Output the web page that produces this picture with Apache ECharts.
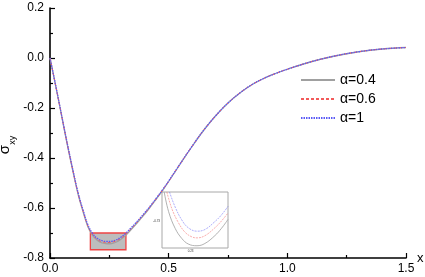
<!DOCTYPE html>
<html><head><meta charset="utf-8">
<script src="https://cdn.jsdelivr.net/npm/echarts@6/dist/echarts.min.js"></script>
<style>html,body{margin:0;padding:0;background:#fff}#c{width:425px;height:277px}</style>
</head><body><div id="c"></div>
<script>
// ---- data ----
const xVals = [0,0.02,0.04,0.06,0.08,0.1,0.12,0.14,0.16,0.18,0.2,0.22,0.24,0.26,0.28,0.3,0.32,0.34,0.36,0.38,0.4,0.42,0.45,0.475,0.5,0.55,0.6,0.65,0.7,0.75,0.8,0.85,0.9,0.95,1.0,1.1,1.2,1.3,1.4,1.5];
const seriesNames = ['α=0.4','α=0.6','α=1'];
const yAlpha04 = [0,-0.093,-0.188,-0.285,-0.379,-0.468,-0.551,-0.617,-0.676,-0.711,-0.730,-0.740,-0.743,-0.742,-0.736,-0.724,-0.708,-0.688,-0.667,-0.645,-0.623,-0.599,-0.561,-0.529,-0.494,-0.422,-0.352,-0.286,-0.229,-0.180,-0.140,-0.107,-0.082,-0.062,-0.045,-0.015,0.008,0.025,0.036,0.042];
const yAlpha06 = [0,-0.092,-0.187,-0.283,-0.377,-0.465,-0.548,-0.614,-0.672,-0.707,-0.726,-0.735,-0.738,-0.737,-0.731,-0.720,-0.704,-0.684,-0.664,-0.642,-0.620,-0.597,-0.560,-0.527,-0.493,-0.421,-0.351,-0.286,-0.229,-0.180,-0.140,-0.107,-0.082,-0.062,-0.045,-0.015,0.008,0.025,0.036,0.042];
const yAlpha1  = [0,-0.092,-0.186,-0.282,-0.375,-0.463,-0.545,-0.610,-0.668,-0.703,-0.722,-0.731,-0.734,-0.733,-0.727,-0.716,-0.700,-0.681,-0.661,-0.640,-0.618,-0.595,-0.558,-0.526,-0.492,-0.421,-0.351,-0.286,-0.229,-0.180,-0.140,-0.107,-0.082,-0.062,-0.045,-0.015,0.008,0.025,0.036,0.042];
const yTicks = ['0.2','0.0','-0.2','-0.4','-0.6','-0.8'];
const xTicks = ['0.0','0.5','1.0','1.5'];
const zoomBox = [[0.17,-0.70],[0.32,-0.767]];
// inset (magnified) curves
const insetX04 = [0.175,0.185,0.200,0.215,0.230,0.2495,0.2675,0.290,0.305,0.320];
const insetY04 = [-0.700,-0.7235,-0.7436,-0.7556,-0.7623,-0.7643,-0.7616,-0.7523,-0.7436,-0.7328];
const insetX06 = [0.181,0.1925,0.2075,0.2225,0.2375,0.2495,0.2675,0.290,0.305,0.320];
const insetY06 = [-0.700,-0.7201,-0.7369,-0.7482,-0.7536,-0.7549,-0.7523,-0.7429,-0.7348,-0.7251];
const insetX1  = [0.187,0.200,0.215,0.230,0.2495,0.2675,0.290,0.305,0.320];
const insetY1  = [-0.700,-0.7181,-0.7335,-0.7429,-0.7469,-0.7449,-0.7355,-0.7275,-0.7172];

const colors = ['#a0a0a0','#f25a5a','#5a5af5'];
const lineTypes = ['solid',[3,2],[1.5,1]];
const widths = [1.3,1,1.3];
const zipPts = (xs, ys) => xs.map((x,i)=>[x,ys[i]]);
const mainY = [yAlpha04,yAlpha06,yAlpha1];
const insetData = [zipPts(insetX04,insetY04),zipPts(insetX06,insetY06),zipPts(insetX1,insetY1)];

const font = 'Liberation Sans, Arial, sans-serif';
const series = [];
mainY.forEach((ys,i)=>{
  const s = {name: seriesNames[i], type:'line', xAxisIndex:0, yAxisIndex:0, data: zipPts(xVals,ys),
    smooth:0.4, symbol:'none', z: 3+i,
    lineStyle:{color:colors[i], width:widths[i], type:lineTypes[i]}, itemStyle:{color:colors[i]}};
  if(i===0){
    s.markArea = {silent:true, z:1, itemStyle:{color:'#bdbdbd', borderColor:'#ee4444', borderWidth:1.3},
      data:[[{coord:zoomBox[0]},{coord:zoomBox[1]}]]};
  }
  series.push(s);
});
insetData.forEach((d,i)=>{
  series.push({name: 'inset'+i, type:'line', xAxisIndex:1, yAxisIndex:1, data:d, smooth:0.4, z:10,
    symbol:'none', lineStyle:{color:colors[i], width:0.9, type:i===0?'solid':[2,1], opacity:i===0?0.9:0.55}, silent:true});
});

const chart = echarts.init(document.getElementById('c'), null, {renderer:'canvas'});
chart.setOption({
  animation:false,
  backgroundColor:'#fff',
  textStyle:{fontFamily:font},
  legend:{orient:'vertical', left:295, top:68, itemWidth:34, itemHeight:12, itemGap:5,
    itemStyle:{opacity:0},
    data:seriesNames, textStyle:{fontSize:14, color:'#000', fontFamily:font}},
  grid:[
    {left:50, top:8, right:19, bottom:19, containLabel:false, outerBoundsMode:'none'},
    {left:162, top:192, width:66, height:56, show:true, borderColor:'#a8a8a8', borderWidth:1, backgroundColor:'#fff', outerBoundsMode:'none'}
  ],
  xAxis:[
    {type:'value', gridIndex:0, min:0, max:1.5, interval:0.5,
     name:'x', nameLocation:'end', nameGap:11, nameMoveOverlap:false,
     nameTextStyle:{fontSize:13, color:'#000', padding:[32,0,0,0], fontFamily:font},
     axisLine:{onZero:false, lineStyle:{color:'#000', width:1.6}},
     axisTick:{inside:true, length:5, lineStyle:{color:'#000', width:1.2}},
     minorTick:{show:true, splitNumber:2, length:3, lineStyle:{color:'#000', width:1.2}},
     splitLine:{show:false},
     axisLabel:{fontSize:12, color:'#000', margin:5, fontFamily:font, formatter:(v)=>xTicks[Math.round(v/0.5)]}},
    {type:'value', gridIndex:1, min:zoomBox[0][0], max:zoomBox[1][0],
     axisLine:{show:false}, axisTick:{show:false}, splitLine:{show:false},
     axisLabel:{show:true, fontSize:3, color:'#333', margin:2, customValues:[0.235], formatter:(v)=>v.toFixed(2)}}
  ],
  yAxis:[
    {type:'value', gridIndex:0, min:-0.8, max:0.2, interval:0.2,
     name:'{s|σ}{sub|xy}', nameLocation:'middle', nameGap:38, nameRotate:90, nameMoveOverlap:false,
     nameTextStyle:{color:'#000', padding:[0,24,0,0], rich:{s:{fontSize:15, color:'#000', fontFamily:font}, sub:{fontSize:9, color:'#000', verticalAlign:'bottom', padding:[0,0,-5,0], fontFamily:font}}},
     axisLine:{onZero:false, lineStyle:{color:'#000', width:1.6}},
     axisTick:{inside:true, length:5, lineStyle:{color:'#000', width:1.2}},
     minorTick:{show:true, splitNumber:2, length:3, lineStyle:{color:'#000', width:1.2}},
     splitLine:{show:false},
     axisLabel:{fontSize:12, color:'#000', margin:6, fontFamily:font, formatter:(v)=>yTicks[Math.round((0.2-v)/0.2)]}},
    {type:'value', gridIndex:1, min:zoomBox[1][1], max:zoomBox[0][1],
     axisLine:{show:false}, axisTick:{show:false}, splitLine:{show:false},
     axisLabel:{show:true, fontSize:3, color:'#333', margin:2, customValues:[-0.735], formatter:(v)=>v.toFixed(2)}}
  ],
  series: series
});
</script></body></html>
